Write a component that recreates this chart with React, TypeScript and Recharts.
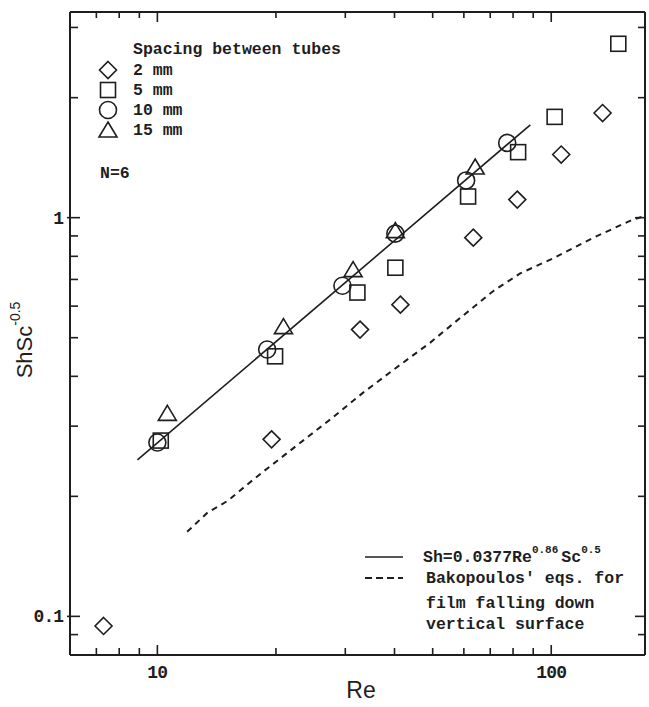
import React from "react";
import { ScatterChart, Scatter, XAxis, YAxis } from "recharts";

// tick values for both log axes
const reTicks = [7, 8, 9, 10, 20, 30, 40, 50, 60, 70, 80, 90, 100];
const reMajor = [10, 100];
const shTicks = [0.09, 0.1, 0.2, 0.3, 0.4, 0.5, 0.6, 0.7, 0.8, 0.9, 1, 2, 3];
const shMajor = [0.1, 1];

const spacing2mm = [
  { re: 7.3, sh: 0.0946 },
  { re: 19.5, sh: 0.278 },
  { re: 32.7, sh: 0.524 },
  { re: 41.4, sh: 0.605 },
  { re: 63.4, sh: 0.891 },
  { re: 82, sh: 1.11 },
  { re: 106, sh: 1.44 },
  { re: 135, sh: 1.83 },
];
const spacing5mm = [
  { re: 10.2, sh: 0.276 },
  { re: 19.9, sh: 0.449 },
  { re: 32.2, sh: 0.649 },
  { re: 40.2, sh: 0.749 },
  { re: 61.5, sh: 1.13 },
  { re: 82.4, sh: 1.46 },
  { re: 102, sh: 1.79 },
  { re: 148, sh: 2.73 },
];
const spacing10mm = [
  { re: 10.0, sh: 0.273 },
  { re: 19.0, sh: 0.467 },
  { re: 29.5, sh: 0.675 },
  { re: 40.2, sh: 0.912 },
  { re: 60.8, sh: 1.24 },
  { re: 77.3, sh: 1.54 },
];
const spacing15mm = [
  { re: 10.6, sh: 0.323 },
  { re: 20.9, sh: 0.533 },
  { re: 31.4, sh: 0.741 },
  { re: 40.2, sh: 0.928 },
  { re: 64.1, sh: 1.34 },
];

// correlation line Sh=0.0377Re^0.86 Sc^0.5 (end points as drawn)
const fitLine = [
  { re: 8.9, sh: 0.247 },
  { re: 88.5, sh: 1.71 },
];

// Bakopoulos' curve for film falling down a vertical surface
const bakopoulos = [
  { re: 11.9, sh: 0.163 },
  { re: 13.4, sh: 0.182 },
  { re: 15.1, sh: 0.195 },
  { re: 16.9, sh: 0.214 },
  { re: 18.6, sh: 0.231 },
  { re: 27.5, sh: 0.312 },
  { re: 33.3, sh: 0.364 },
  { re: 41.4, sh: 0.428 },
  { re: 49.3, sh: 0.486 },
  { re: 58.8, sh: 0.561 },
  { re: 71.3, sh: 0.655 },
  { re: 83.4, sh: 0.725 },
  { re: 101, sh: 0.79 },
  { re: 128, sh: 0.891 },
  { re: 161, sh: 0.989 },
  { re: 173, sh: 1.01 },
];

const INK = "#1e1e1e";
const MONO = "'Liberation Mono', 'DejaVu Sans Mono', monospace";
const SANS = "'Liberation Sans', 'DejaVu Sans', sans-serif";
const W = 649;
const H = 707;

const Diamond = ({ cx, cy }: any) => (
  <path
    d={`M${cx},${cy - 8.5}L${cx + 8.5},${cy}L${cx},${cy + 8.5}L${cx - 8.5},${cy}Z`}
    fill="none"
    stroke={INK}
    strokeWidth={1.6}
  />
);
const Square = ({ cx, cy }: any) => (
  <rect x={cx - 7.5} y={cy - 7.5} width={15} height={15} fill="none" stroke={INK} strokeWidth={1.6} />
);
const Circle = ({ cx, cy }: any) => (
  <circle cx={cx} cy={cy} r={8.5} fill="none" stroke={INK} strokeWidth={1.6} />
);
const Triangle = ({ cx, cy }: any) => (
  <path
    d={`M${cx},${cy - 8}L${cx + 9},${cy + 7}L${cx - 9},${cy + 7}Z`}
    fill="none"
    stroke={INK}
    strokeWidth={1.6}
  />
);
const NoDot = () => <g />;

const BottomTick = ({ x, y, payload }: any) => {
  const major = reMajor.includes(payload.value);
  return (
    <g>
      <line x1={x} y1={y} x2={x} y2={y - (major ? 10 : 7)} stroke={INK} strokeWidth={1.6} />
      {major && (
        <text x={x} y={y + 18} textAnchor="middle" dominantBaseline="central" fontFamily={MONO}
          fontWeight="bold" fontSize={18} letterSpacing={-0.8} fill={INK}>
          {payload.value}
        </text>
      )}
    </g>
  );
};

const TopTick = ({ x, y, payload }: any) => {
  const major = reMajor.includes(payload.value);
  return <line x1={x} y1={y} x2={x} y2={y + (major ? 10 : 6)} stroke={INK} strokeWidth={1.6} />;
};

const LeftTick = ({ x, y, payload }: any) => {
  const major = shMajor.includes(payload.value);
  return (
    <g>
      <line x1={major ? x - 3 : x} y1={y} x2={x + (major ? 10 : 8)} y2={y} stroke={INK} strokeWidth={1.6} />
      {major && (
        <text x={x - 7} y={y + 1} textAnchor="end" dominantBaseline="central" fontFamily={MONO}
          fontWeight="bold" fontSize={18} letterSpacing={-1} fill={INK}>
          {payload.value}
        </text>
      )}
    </g>
  );
};

const RightTick = ({ x, y, payload }: any) => {
  const major = shMajor.includes(payload.value);
  return <line x1={x} y1={y} x2={x - (major ? 10 : 7)} y2={y} stroke={INK} strokeWidth={1.6} />;
};

const txt = { fontFamily: MONO, fontWeight: "bold" as const, fontSize: 16.5, fill: INK, letterSpacing: 0 };

export default function App() {
  return (
    <div style={{ position: "absolute", left: 0, top: 0, width: W, height: H, background: "#fff" }}>
      <ScatterChart width={W} height={H} margin={{ top: 11, right: 3, bottom: 51, left: 69 }}>
        <XAxis xAxisId="bottom" dataKey="re" type="number" scale="log" domain={[6, 173]} allowDataOverflow
          ticks={reTicks} interval={0} tick={<BottomTick />} tickLine={false} tickSize={0} tickMargin={0}
          height={1} axisLine={{ stroke: INK, strokeWidth: 2 }} />
        <XAxis xAxisId="top" orientation="top" dataKey="re" type="number" scale="log" domain={[6, 173]}
          allowDataOverflow ticks={reTicks} interval={0} tick={<TopTick />} tickLine={false} tickSize={0}
          tickMargin={0} height={1} axisLine={{ stroke: INK, strokeWidth: 2 }} />
        <YAxis yAxisId="left" dataKey="sh" type="number" scale="log" domain={[0.08, 3.28]} allowDataOverflow
          ticks={shTicks} interval={0} tick={<LeftTick />} tickLine={false} tickSize={0} tickMargin={0}
          width={1} axisLine={{ stroke: INK, strokeWidth: 2 }} />
        <YAxis yAxisId="right" orientation="right" dataKey="sh" type="number" scale="log"
          domain={[0.08, 3.28]} allowDataOverflow ticks={shTicks} interval={0} tick={<RightTick />}
          tickLine={false} tickSize={0} tickMargin={0} width={1} axisLine={{ stroke: INK, strokeWidth: 2 }} />

        <Scatter name="fit" data={fitLine} xAxisId="bottom" yAxisId="left" shape={NoDot}
          line={{ stroke: INK, strokeWidth: 1.6 }} isAnimationActive={false} />
        <Scatter name="Bakopoulos" data={bakopoulos} xAxisId="bottom" yAxisId="left" shape={NoDot}
          line={{ stroke: INK, strokeWidth: 2, strokeDasharray: "6 5" }} isAnimationActive={false} />
        <Scatter name="2 mm" data={spacing2mm} xAxisId="bottom" yAxisId="left" shape={Diamond}
          isAnimationActive={false} />
        <Scatter name="5 mm" data={spacing5mm} xAxisId="bottom" yAxisId="left" shape={Square}
          isAnimationActive={false} />
        <Scatter name="10 mm" data={spacing10mm} xAxisId="bottom" yAxisId="left" shape={Circle}
          isAnimationActive={false} />
        <Scatter name="15 mm" data={spacing15mm} xAxisId="bottom" yAxisId="left" shape={Triangle}
          isAnimationActive={false} />
      </ScatterChart>

      <svg width={W} height={H} style={{ position: "absolute", left: 0, top: 0, pointerEvents: "none" }}>
        {/* symbol legend */}
        <text x={133} y={49} dominantBaseline="central" {...txt}>Spacing between tubes</text>
        <Diamond cx={108} cy={70} />
        <text x={133} y={70} dominantBaseline="central" {...txt}>2 mm</text>
        <Square cx={108} cy={90} />
        <text x={133} y={90} dominantBaseline="central" {...txt}>5 mm</text>
        <Circle cx={108} cy={110} />
        <text x={133} y={110} dominantBaseline="central" {...txt}>10 mm</text>
        <Triangle cx={108} cy={130} />
        <text x={133} y={130} dominantBaseline="central" {...txt}>15 mm</text>
        <text x={100} y={173} dominantBaseline="central" {...txt}>N=6</text>

        {/* line legend */}
        <line x1={365} y1={557} x2={403} y2={557} stroke={INK} strokeWidth={1.6} />
        <text x={423} y={557} dominantBaseline="central" {...txt}>
          Sh=0.0377Re<tspan fontSize={11} dy={-7}>0.86</tspan>
          <tspan dy={7} dx={3}>Sc</tspan>
          <tspan fontSize={11} dy={-7}>0.5</tspan>
        </text>
        <line x1={365} y1={578} x2={403} y2={578} stroke={INK} strokeWidth={1.8} strokeDasharray="7 4" />
        <text x={426} y={578} dominantBaseline="central" {...txt}>Bakopoulos' eqs. for</text>
        <text x={426} y={603} dominantBaseline="central" {...txt}>film falling down</text>
        <text x={426} y={624} dominantBaseline="central" {...txt}>vertical surface</text>

        {/* axis titles */}
        <text x={361} y={690} textAnchor="middle" dominantBaseline="central" fontFamily={SANS}
          fontSize={23} fill={INK}>Re</text>
        <text x={24} y={340} textAnchor="middle" dominantBaseline="central" fontFamily={SANS}
          fontSize={22} fill={INK} transform="rotate(-90, 24, 340)">
          ShSc<tspan fontSize={14} dy={-9}>-0.5</tspan>
        </text>
      </svg>
    </div>
  );
}
